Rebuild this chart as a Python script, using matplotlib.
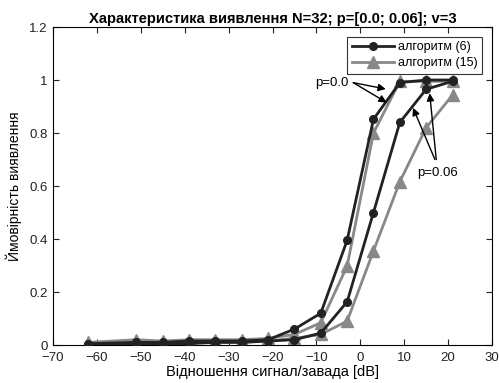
import matplotlib.pyplot as plt

plt.rcParams['font.family'] = ['Liberation Sans', 'DejaVu Sans']

# Відношення сигнал/завада [dB]
snr = [-62, -51, -45, -39, -33, -27, -21, -15, -9, -3, 3, 9, 15, 21]

# алгоритм (6)
alg6_p0 = [0.005, 0.01, 0.01, 0.015, 0.015, 0.015, 0.02, 0.06, 0.12, 0.395, 0.852, 0.99, 1.0, 1.0]
alg6_p006 = [0.0, 0.0, 0.005, 0.005, 0.01, 0.01, 0.015, 0.02, 0.045, 0.163, 0.50, 0.84, 0.965, 0.995]
# алгоритм (15)
alg15_p0 = [0.01, 0.02, 0.015, 0.02, 0.02, 0.02, 0.025, 0.04, 0.084, 0.298, 0.80, 0.995, 0.995, 0.995]
alg15_p006 = [0.005, 0.01, 0.01, 0.01, 0.01, 0.01, 0.015, 0.025, 0.04, 0.09, 0.355, 0.616, 0.82, 0.943]

xticks = [-70, -60, -50, -40, -30, -20, -10, 0, 10, 20, 30]
yticks = [0, 0.2, 0.4, 0.6, 0.8, 1.0, 1.2]
ylabels = ['0', '0.2', '0.4', '0.6', '0.8', '1', '1.2']

dark = '#222222'
grey = '#888888'

fig = plt.figure(figsize=(4.99, 3.83), dpi=100)
ax = fig.add_axes([0.1062, 0.0992, 0.8798, 0.8303])

# кривi
ax.plot(snr, alg6_p0, color=dark, lw=2, marker='o', ms=5.5, label='алгоритм (6)', zorder=3)
ax.plot(snr, alg15_p0, color=grey, lw=2, marker='^', ms=8.5, label='алгоритм (15)', zorder=2)
ax.plot(snr, alg6_p006, color=dark, lw=2, marker='o', ms=5.5, zorder=3)
ax.plot(snr, alg15_p006, color=grey, lw=2, marker='^', ms=8.5, zorder=2)

ax.set_xlim(-70, 30)
ax.set_ylim(0, 1.2)
ax.set_xticks(xticks)
ax.set_yticks(yticks)
ax.set_yticklabels(ylabels)
ax.tick_params(direction='in', top=True, right=True, labelsize=9.5, length=4, colors='#222222')
ax.tick_params(axis='x', pad=5)
ax.tick_params(axis='y', pad=4)

ax.set_title('Характеристика виявлення N=32; p=[0.0; 0.06]; v=3', fontsize=10.6, fontweight='bold', pad=3)
ax.set_xlabel('Відношення сигнал/завада [dB]', fontsize=10.5, labelpad=1)
ax.set_ylabel('Ймовірність виявлення', fontsize=10, labelpad=5)

# стрілки
arrow = dict(arrowstyle='-|>', color='black', lw=1, mutation_scale=11, shrinkA=0, shrinkB=0)
ax.text(-10.2, 0.99, 'p=0.0', fontsize=9.5, va='center', ha='left')
ax.annotate('', xy=(5.8, 0.966), xytext=(-1.6, 0.99), arrowprops=arrow)
ax.annotate('', xy=(6.0, 0.915), xytext=(-1.6, 0.99), arrowprops=arrow)
ax.text(13.0, 0.65, 'p=0.06', fontsize=9.5, va='center', ha='left')
ax.annotate('', xy=(12.0, 0.895), xytext=(17.0, 0.70), arrowprops=arrow)
ax.annotate('', xy=(15.8, 0.95), xytext=(17.3, 0.70), arrowprops=arrow)

leg = ax.legend(loc='upper right', fontsize=9, frameon=True, fancybox=False,
                edgecolor='black', handlelength=3.4, borderpad=0.35, labelspacing=0.3,
                handletextpad=0.3, borderaxespad=0.8)
leg.get_frame().set_linewidth(0.8)

fig.savefig('out.png', dpi=100)
